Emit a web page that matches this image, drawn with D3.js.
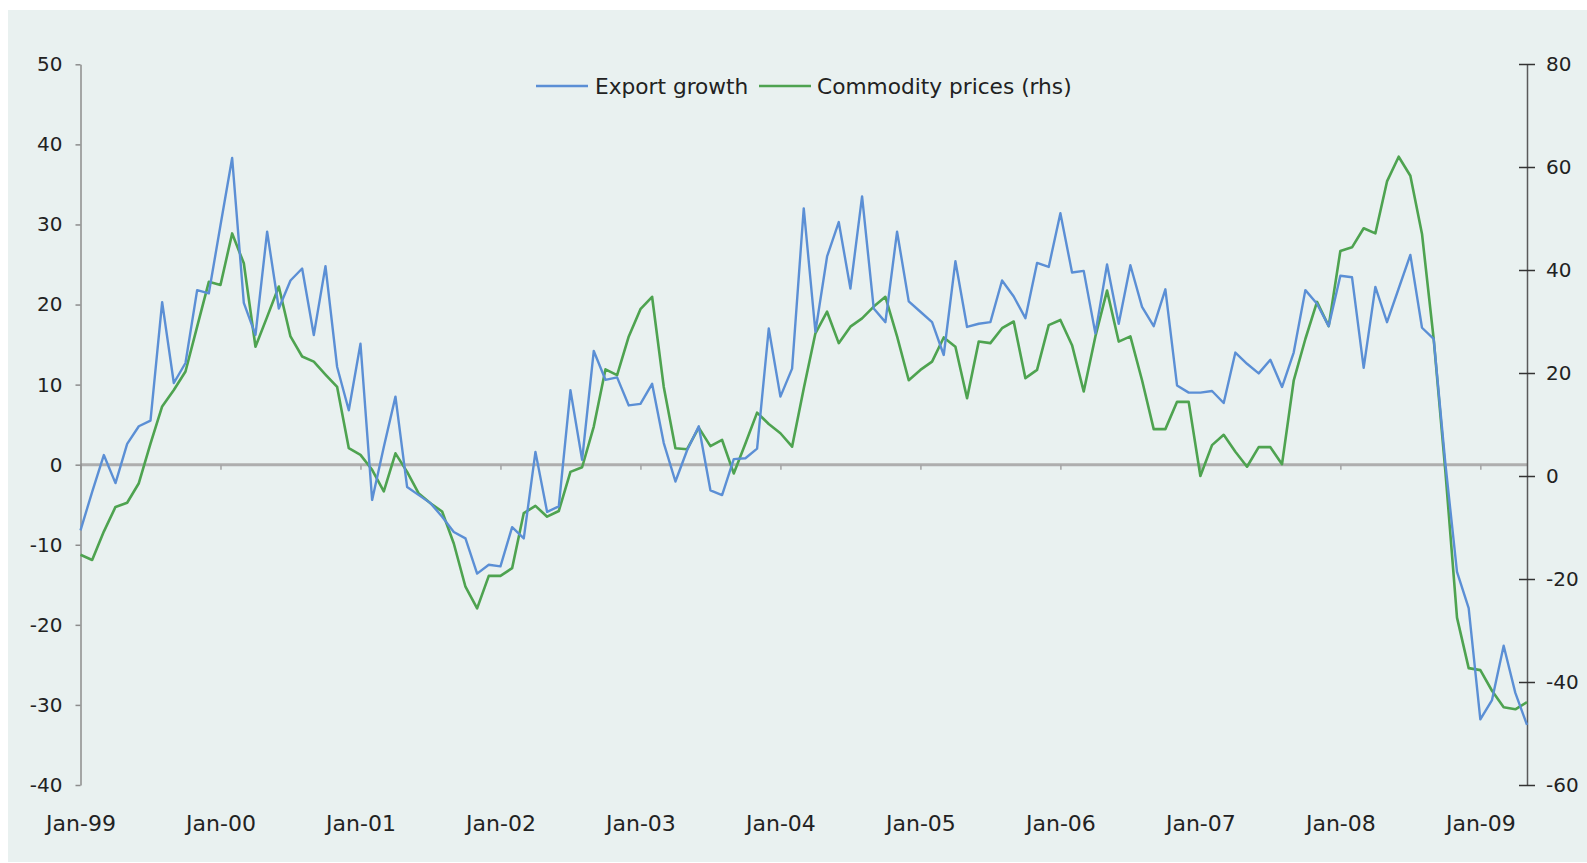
<!DOCTYPE html>
<html>
<head>
<meta charset="utf-8">
<script src="https://cdn.jsdelivr.net/npm/d3@7"></script>
<style>
  html, body { margin: 0; padding: 0; background: #ffffff; }
  svg { display: block; }
  text { font-family: "DejaVu Sans", sans-serif; fill: #222; }
</style>
</head>
<body>
<svg id="chart" width="1587" height="863"></svg>
<script>
// ---- data ----
const months = d3.timeMonths(new Date(1999, 0, 1), new Date(2009, 5, 1)).map(d3.timeFormat("%b-%y"));

const exportGrowth = [
  -8.2, -3.4, 1.2, -2.3, 2.6, 4.8, 5.5, 20.3, 10.2, 12.7, 21.8, 21.4,
  29.9, 38.3, 20.2, 16.2, 29.1, 19.5, 23.0, 24.5, 16.2, 24.8, 12.2, 6.8,
  15.1, -4.4, 2.2, 8.5, -2.8, -3.8, -4.8, -6.5, -8.4, -9.2, -13.6, -12.5,
  -12.7, -7.8, -9.2, 1.6, -5.9, -5.2, 9.3, 0.6, 14.2, 10.6, 10.9, 7.4,
  7.6, 10.1, 2.7, -2.1, 1.8, 4.8, -3.2, -3.8, 0.7, 0.8, 2.0, 17.0,
  8.5, 12.0, 32.0, 16.6, 26.0, 30.3, 22.0, 33.5, 19.5, 17.8, 29.1, 20.4,
  19.1, 17.8, 13.7, 25.4, 17.2, 17.6, 17.8, 23.0, 21.0, 18.3, 25.2, 24.7,
  31.4, 24.0, 24.2, 16.4, 25.0, 17.6, 24.9, 19.7, 17.3, 21.9, 9.9, 9.0,
  9.0, 9.2, 7.7, 14.0, 12.6, 11.4, 13.1, 9.7, 14.0, 21.8, 20.1, 17.3,
  23.6, 23.4, 12.1, 22.2, 17.8, 22.0, 26.2, 17.1, 15.7, 0.2, -13.4, -17.9,
  -31.8, -29.4, -22.6, -28.5, -32.5
];

const commodityPrices = [
  -15.3, -16.3, -10.8, -6.0, -5.2, -1.4, 6.3, 13.5, 16.7, 20.3, 29.0, 37.7,
  37.1, 47.1, 41.3, 25.1, 30.9, 36.8, 27.1, 23.2, 22.2, 19.7, 17.3, 5.4,
  4.1, 1.2, -3.0, 4.4, 0.8, -3.4, -5.3, -6.9, -13.1, -21.5, -25.7, -19.4,
  -19.4, -17.9, -7.2, -5.8, -7.9, -6.8, 0.8, 1.7, 9.6, 20.7, 19.6, 27.1,
  32.4, 34.8, 17.3, 5.4, 5.2, 9.4, 5.8, 7.0, 0.5, 6.3, 12.3, 10.1,
  8.3, 5.7, 17.0, 27.7, 31.9, 25.8, 29.0, 30.6, 32.9, 34.8, 27.1, 18.6,
  20.6, 22.2, 26.9, 25.1, 15.1, 26.1, 25.8, 28.7, 30.0, 19.0, 20.6, 29.3,
  30.3, 25.4, 16.4, 27.1, 36.0, 26.1, 27.1, 18.6, 9.1, 9.1, 14.4, 14.4,
  0.0, 6.0, 8.0, 4.7, 1.8, 5.6, 5.6, 2.3, 18.5, 26.6, 33.8, 29.1,
  43.7, 44.4, 48.1, 47.1, 57.2, 62.0, 58.3, 47.0, 26.6, 1.0, -27.5, -37.3,
  -37.7, -41.7, -44.9, -45.3, -43.9
];

const xTickLabels = ["Jan-99","Jan-00","Jan-01","Jan-02","Jan-03","Jan-04","Jan-05","Jan-06","Jan-07","Jan-08","Jan-09"];
const leftTicks = [-40, -30, -20, -10, 0, 10, 20, 30, 40, 50];
const rightTicks = [-60, -40, -20, 0, 20, 40, 60, 80];
const seriesNames = ["Export growth", "Commodity prices (rhs)"];
const seriesColors = ["#5b8fd5", "#4ea350"];

// ---- layout ----
const W = 1587, H = 863;
const plotLeft = 80.5, plotRight = 1527, plotTop = 64.3, plotBottom = 785;
const fmt = d => String(d); // hyphen-minus, as in the original

const svg = d3.select("#chart");

svg.append("rect")
  .attr("x", 8).attr("y", 10)
  .attr("width", W - 8).attr("height", H - 10 - 1)
  .attr("fill", "#e9f1f0");

const x = d3.scalePoint().domain(months).range([plotLeft, plotRight]).padding(0);
const yL = d3.scaleLinear().domain([-40, 50]).range([plotBottom, plotTop]);
const yR = d3.scaleLinear().domain([-60, 80]).range([plotBottom, 64]);

// zero line with january ticks
const zeroAxis = svg.append("g")
  .attr("transform", `translate(0,${yL(0)})`)
  .call(d3.axisBottom(x).tickValues(xTickLabels).tickSize(5).tickFormat(""));
zeroAxis.select(".domain")
  .attr("d", `M${plotLeft},0H${plotRight}`)
  .attr("stroke", "#aeaeae").attr("stroke-width", 3);
zeroAxis.selectAll(".tick line").attr("stroke", "#a4a4a4").attr("stroke-width", 1.5);

// x labels at bottom
const xLab = svg.append("g")
  .attr("transform", `translate(0,${plotBottom})`)
  .call(d3.axisBottom(x).tickValues(xTickLabels).tickSize(0).tickPadding(30));
xLab.select(".domain").remove();
xLab.selectAll("text").style("font-size", "22px").attr("fill", "#222").attr("font-family", "DejaVu Sans");

// left axis
const lAx = svg.append("g")
  .attr("transform", `translate(${plotLeft},0)`)
  .call(d3.axisLeft(yL).tickValues(leftTicks).tickFormat(fmt).tickSizeInner(5).tickSizeOuter(0).tickPadding(13));
lAx.select(".domain").attr("stroke", "#8c8c8c").attr("stroke-width", 1.5);
lAx.selectAll(".tick line").attr("stroke", "#8c8c8c").attr("stroke-width", 1.5);
lAx.selectAll("text").style("font-size", "20px").attr("fill", "#222").attr("font-family", "DejaVu Sans");

// right axis
const rAx = svg.append("g")
  .attr("transform", `translate(${plotRight},0)`)
  .call(d3.axisRight(yR).tickValues(rightTicks).tickFormat(fmt).tickSizeInner(8).tickSizeOuter(0).tickPadding(11));
rAx.select(".domain").attr("stroke", "#5a5a5a").attr("stroke-width", 1.5);
rAx.selectAll(".tick line").attr("x1", -8).attr("stroke", "#333").attr("stroke-width", 1.5);
rAx.selectAll("text").style("font-size", "20px").attr("fill", "#222").attr("font-family", "DejaVu Sans");

// lines
const lineL = d3.line().x((d, i) => x(months[i])).y(d => yL(d));
const lineR = d3.line().x((d, i) => x(months[i])).y(d => yR(d));

svg.append("path").datum(commodityPrices)
  .attr("d", lineR).attr("fill", "none")
  .attr("stroke", seriesColors[1]).attr("stroke-width", 2.6).attr("stroke-linejoin", "round");

svg.append("path").datum(exportGrowth)
  .attr("d", lineL).attr("fill", "none")
  .attr("stroke", seriesColors[0]).attr("stroke-width", 2.4).attr("stroke-linejoin", "round");

// legend
const legendItems = [
  { name: seriesNames[0], color: seriesColors[0], x0: 536, x1: 588, tx: 595 },
  { name: seriesNames[1], color: seriesColors[1], x0: 759, x1: 811, tx: 817 }
];
const lg = svg.append("g").attr("class", "legend");
legendItems.forEach(it => {
  lg.append("line").attr("x1", it.x0).attr("x2", it.x1).attr("y1", 86).attr("y2", 86)
    .attr("stroke", it.color).attr("stroke-width", 2.6);
  lg.append("text").attr("x", it.tx).attr("y", 86).attr("dy", "0.35em")
    .style("font-size", "21.7px").attr("fill", "#222").text(it.name);
});
</script>
</body>
</html>
